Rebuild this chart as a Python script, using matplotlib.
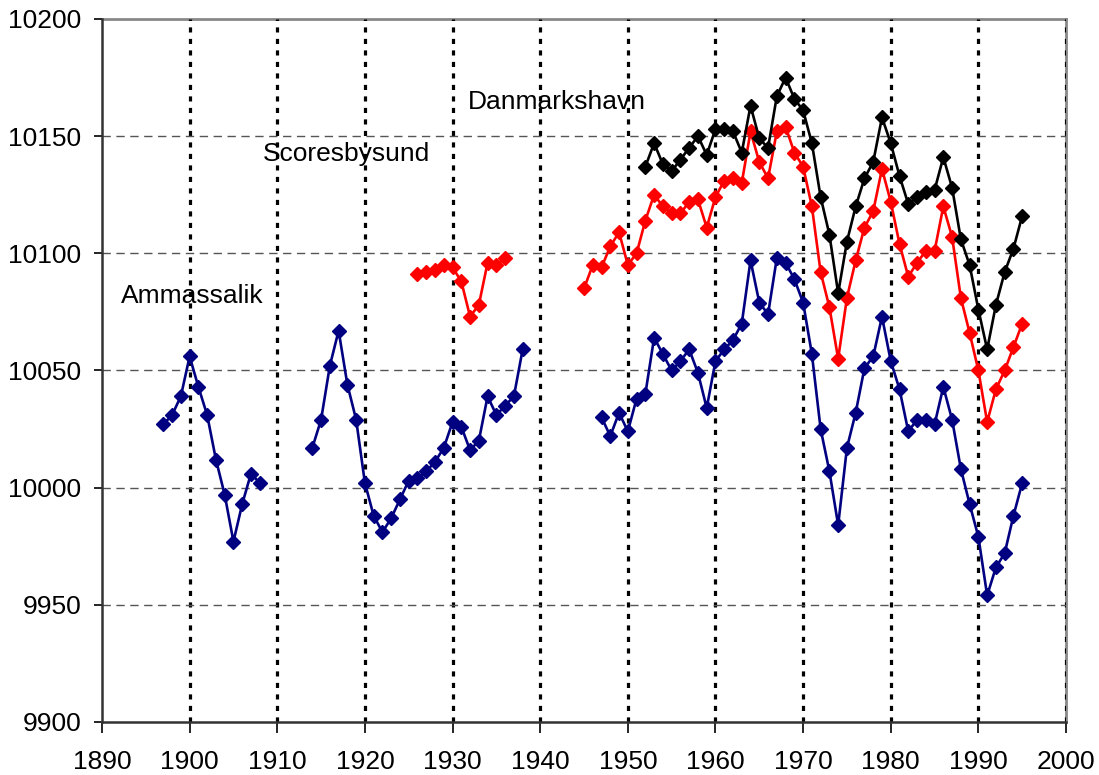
import numpy as np
import matplotlib
matplotlib.use("Agg")
import matplotlib.pyplot as plt

plt.rcParams["font.family"] = ["Liberation Sans", "DejaVu Sans"]

nan = np.nan

# Ammassalik 1897-1995 (gaps as nan)
amm_years = list(range(1897, 1996))
amm_values = (
    [10027, 10031, 10039, 10056, 10043, 10031, 10012, 9997, 9977, 9993, 10006, 10002]  # 1897-1908
    + [nan] * 5  # 1909-1913
    + [10017, 10029, 10052, 10067, 10044, 10029, 10002, 9988, 9981, 9987, 9995, 10003,
       10004, 10007, 10011, 10017, 10028, 10026, 10016, 10020, 10039, 10031, 10035,
       10039, 10059]  # 1914-1938
    + [nan] * 8  # 1939-1946
    + [10030, 10022, 10032, 10024, 10038, 10040, 10064, 10057, 10050, 10054, 10059,
       10049, 10034, 10054, 10059, 10063, 10070, 10097, 10079, 10074, 10098, 10096,
       10089, 10079, 10057, 10025, 10007, 9984, 10017, 10032, 10051, 10056, 10073,
       10054, 10042, 10024, 10029, 10029, 10027, 10043, 10029, 10008, 9993, 9979,
       9954, 9966, 9972, 9988, 10002]  # 1947-1995
)

# Scoresbysund 1926-1995
sco_years = list(range(1926, 1996))
sco_values = (
    [10091, 10092, 10093, 10095, 10094, 10088, 10073, 10078, 10096, 10095, 10098]  # 1926-1936
    + [nan] * 8  # 1937-1944
    + [10085, 10095, 10094, 10103, 10109, 10095, 10100, 10114, 10125, 10120, 10117,
       10117, 10122, 10123, 10111, 10124, 10131, 10132, 10130, 10152, 10139, 10132,
       10152, 10154, 10143, 10137, 10120, 10092, 10077, 10055, 10081, 10097, 10111,
       10118, 10136, 10122, 10104, 10090, 10096, 10101, 10101, 10120, 10107, 10081,
       10066, 10050, 10028, 10042, 10050, 10060, 10070]  # 1945-1995
)

# Danmarkshavn 1952-1995
dan_years = list(range(1952, 1996))
dan_values = [10137, 10147, 10138, 10135, 10140, 10145, 10150, 10142, 10153, 10153,
              10152, 10143, 10163, 10149, 10145, 10167, 10175, 10166, 10161, 10147,
              10124, 10108, 10083, 10105, 10120, 10132, 10139, 10158, 10147, 10133,
              10121, 10124, 10126, 10127, 10141, 10128, 10106, 10095, 10076, 10059,
              10078, 10092, 10102, 10116]

labels = ["Ammassalik", "Scoresbysund", "Danmarkshavn"]
label_pos = [(1892.2, 10079), (1908.3, 10139.5), (1931.8, 10161.5)]

fig = plt.figure(figsize=(10.99, 7.75), dpi=100)
ax = fig.add_axes([0.0928, 0.0684, 0.8772, 0.9071])

for yrs, vals, col in [(amm_years, amm_values, "#000080"),
                       (sco_years, sco_values, "#FF0000"),
                       (dan_years, dan_values, "black")]:
    ax.plot(yrs, np.array(vals, dtype=float), color=col, linewidth=1.9,
            marker="D", markersize=7, zorder=3)

for name, (tx, ty) in zip(labels, label_pos):
    ax.text(tx, ty, name, fontsize=19, ha="left", va="baseline", zorder=0.5)

ax.set_xlim(1890, 2000)
ax.set_ylim(9900, 10200)
ax.set_xticks(range(1890, 2001, 10))
ax.set_yticks(range(9900, 10201, 50))

ax.yaxis.grid(True, color="#555555", linestyle=(0, (6, 4)), linewidth=1.0)
ax.xaxis.grid(True, color="black", linestyle=(0, (1.6, 2.0)), linewidth=2.3)
ax.set_axisbelow(False)
for gl in ax.get_xgridlines() + ax.get_ygridlines():
    gl.set_zorder(1)
# no grid on the lower/left/top frame edges
ax.get_xgridlines()[0].set_visible(False)
ax.get_ygridlines()[0].set_visible(False)
ax.get_ygridlines()[-1].set_visible(False)

ax.tick_params(axis="y", direction="out", length=6, width=1.2, pad=9, labelsize=19)
ax.tick_params(axis="x", direction="out", length=8, width=1.2, pad=12, labelsize=19)

for side in ["left", "bottom"]:
    ax.spines[side].set_color("#333333")
    ax.spines[side].set_linewidth(1.8)
    ax.spines[side].set_zorder(4)
for side in ["top", "right"]:
    ax.spines[side].set_color("#888888")
    ax.spines[side].set_linewidth(2.0)

fig.savefig("out.png", dpi=100)
